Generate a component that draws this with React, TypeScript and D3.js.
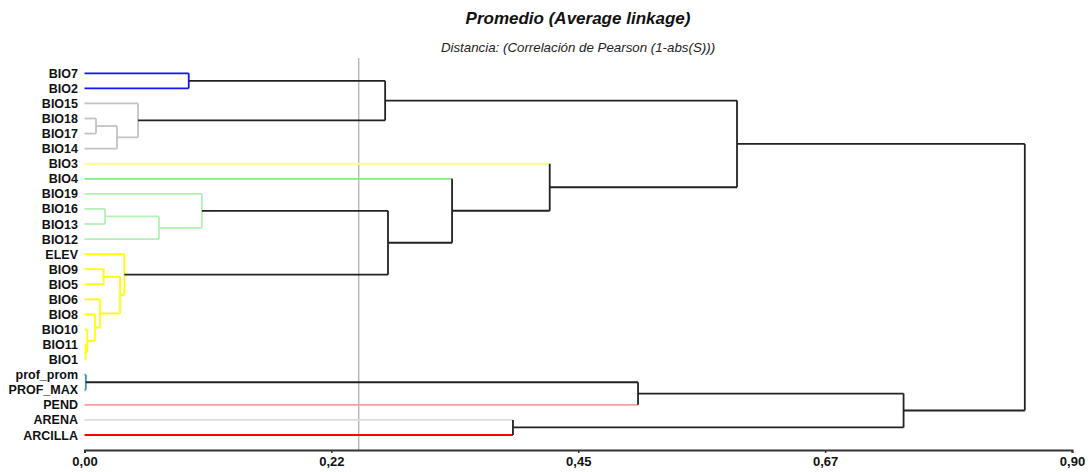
import React, { useEffect, useRef } from "react";
import * as d3 from "d3";

// leaves, top to bottom
const leaves = [
  "BIO7", "BIO2", "BIO15", "BIO18", "BIO17", "BIO14", "BIO3", "BIO4",
  "BIO19", "BIO16", "BIO13", "BIO12", "ELEV", "BIO9", "BIO5", "BIO6",
  "BIO8", "BIO10", "BIO11", "BIO1", "prof_prom", "PROF_MAX", "PEND",
  "ARENA", "ARCILLA",
];

const leafColors = [
  "#1414ff", "#1414ff", "#c3c3c3", "#c3c3c3", "#c3c3c3", "#c3c3c3",
  "#ffff8c", "#80f080", "#b4f0b4", "#b4f0b4", "#b4f0b4", "#b4f0b4",
  "#ffff00", "#ffff00", "#ffff00", "#ffff00", "#ffff00", "#ffff00",
  "#ffff00", "#ffff00", "#3a8fd0", "#3a8fd0", "#ff9a9a", "#dcdcdc",
  "#ff0000",
];

// merges: [left, right, distance]; ids >= leaves.length refer to earlier merges
const merges: [number, number, number][] = [
  [0, 1, 0.095],     // 25
  [3, 4, 0.0105],    // 26
  [26, 5, 0.0296],   // 27
  [2, 27, 0.0488],   // 28
  [25, 28, 0.274],   // 29
  [9, 10, 0.0187],   // 30
  [30, 11, 0.0679],  // 31
  [8, 31, 0.107],    // 32
  [13, 14, 0.0175],  // 33
  [18, 19, 0.0011],  // 34
  [17, 34, 0.0026],  // 35
  [16, 35, 0.0096],  // 36
  [15, 36, 0.0141],  // 37
  [33, 37, 0.0324],  // 38
  [12, 38, 0.0363],  // 39
  [32, 39, 0.2766],  // 40
  [7, 40, 0.335],    // 41
  [6, 41, 0.424],    // 42
  [29, 42, 0.5947],  // 43
  [20, 21, 0.0012],  // 44
  [44, 22, 0.5045],  // 45
  [23, 24, 0.3905],  // 46
  [45, 46, 0.7465],  // 47
  [43, 47, 0.857],   // 48
];

// colour of each merge (null = black link above the colour groups)
const mergeColors: (string | null)[] = [
  "#1414ff", "#c3c3c3", "#c3c3c3", "#c3c3c3", null,
  "#b4f0b4", "#b4f0b4", "#b4f0b4",
  "#ffff00", "#ffff00", "#ffff00", "#ffff00", "#ffff00", "#ffff00", "#ffff00",
  null, null, null, null,
  "#3a8fd0", null, null, null, null,
];

const tickValues = [0, 0.225, 0.45, 0.675, 0.9];
const tickLabels = ["0,00", "0,22", "0,45", "0,67", "0,90"];
const cutDistance = 0.25;

const FONT = "'Liberation Sans', Arial, sans-serif";
const BLACK = "#222";

export default function App() {
  const ref = useRef<SVGSVGElement>(null);

  useEffect(() => {
    const svg = d3.select(ref.current);
    svg.selectAll("*").remove();

    const x = d3.scaleLinear().domain([0, 0.9]).range([84.5, 1072]);
    const y = d3.scalePoint().domain(leaves).range([73.3, 435]);
    const axisY = 450;

    const n = leaves.length;
    const nodeY: number[] = leaves.map((l) => y(l) as number);
    const nodeH: number[] = leaves.map(() => 0);
    merges.forEach(([a, b, h]) => {
      nodeY.push((nodeY[a] + nodeY[b]) / 2);
      nodeH.push(h);
    });

    // reference cut line
    svg
      .append("line")
      .attr("x1", x(cutDistance))
      .attr("x2", x(cutDistance))
      .attr("y1", 58)
      .attr("y2", axisY)
      .attr("stroke", "#999")
      .attr("stroke-width", 1);

    const links = svg.append("g").attr("fill", "none").attr("stroke-width", 1.8);
    merges.forEach(([a, b, h], i) => {
      const mc = mergeColors[i];
      [a, b].forEach((c) => {
        const col = mc ? mc : c < n ? leafColors[c] : BLACK;
        links
          .append("line")
          .attr("x1", x(nodeH[c]))
          .attr("x2", x(h))
          .attr("y1", nodeY[c])
          .attr("y2", nodeY[c])
          .attr("stroke", col);
      });
      links
        .append("line")
        .attr("x1", x(h))
        .attr("x2", x(h))
        .attr("y1", nodeY[a])
        .attr("y2", nodeY[b])
        .attr("stroke", mc ? mc : BLACK);
    });

    // leaf labels
    svg
      .append("g")
      .selectAll("text")
      .data(leaves)
      .join("text")
      .attr("x", 78)
      .attr("y", (d) => y(d) as number)
      .attr("dy", "0.36em")
      .attr("text-anchor", "end")
      .style("font-family", FONT)
      .style("font-weight", "bold")
      .style("font-size", "12.5px")
      .attr("fill", "#111")
      .text((d) => d);

    // x axis
    const axis = svg
      .append("g")
      .attr("transform", `translate(0,${axisY})`)
      .call(
        d3
          .axisBottom(x)
          .tickValues(tickValues)
          .tickFormat((d, i) => tickLabels[i])
          .tickSize(3)
      );
    axis.select(".domain").attr("stroke", "#333").attr("stroke-width", 2);
    axis.selectAll(".tick line").attr("stroke", "#333").attr("stroke-width", 1.5);
    axis
      .selectAll(".tick text")
      .attr("y", 7)
      .attr("fill", "#111")
      .style("font-family", FONT)
      .style("font-weight", "bold")
      .style("font-size", "13px");

    // titles
    svg
      .append("text")
      .attr("x", 578)
      .attr("y", 24)
      .attr("text-anchor", "middle")
      .style("font-family", FONT)
      .style("font-weight", "bold")
      .style("font-style", "italic")
      .style("font-size", "17px")
      .attr("fill", "#111")
      .text("Promedio (Average linkage)");
    svg
      .append("text")
      .attr("x", 578)
      .attr("y", 52)
      .attr("text-anchor", "middle")
      .style("font-family", FONT)
      .style("font-style", "italic")
      .style("font-size", "13.3px")
      .attr("fill", "#222")
      .text("Distancia: (Correlación de Pearson (1-abs(S)))");
  }, []);

  return (
    <svg
      ref={ref}
      width={1091}
      height={472}
      style={{ position: "absolute", left: 0, top: 0, background: "#fff" }}
    />
  );
}
